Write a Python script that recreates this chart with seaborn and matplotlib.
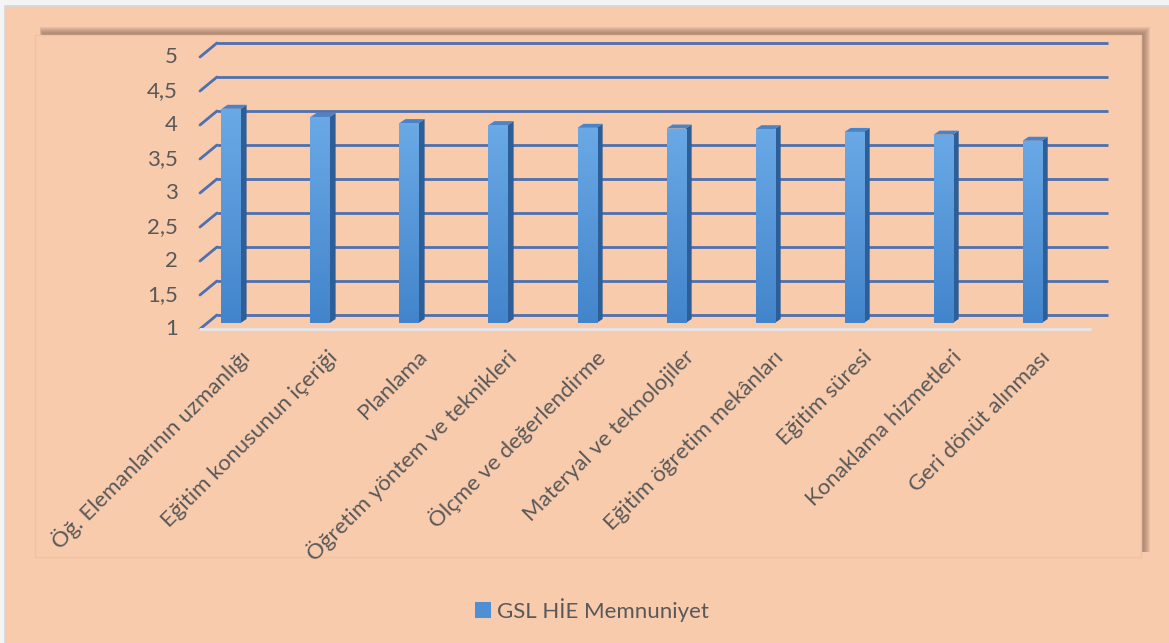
import numpy as np
import pandas as pd
import matplotlib
matplotlib.use("Agg")
import matplotlib.pyplot as plt
import matplotlib.patches as mpatches
import matplotlib.transforms as mtrans
from matplotlib.lines import Line2D
from matplotlib.colors import LinearSegmentedColormap
import seaborn as sns

# ---------------- data ----------------
categories = [
    "Öğ. Elemanlarının uzmanlığı",
    "Eğitim konusunun içeriği",
    "Planlama",
    "Öğretim yöntem ve teknikleri",
    "Ölçme ve değerlendirme",
    "Materyal ve teknolojiler",
    "Eğitim öğretim mekânları",
    "Eğitim süresi",
    "Konaklama hizmetleri",
    "Geri dönüt alınması",
]
values = [4.15, 4.03, 3.94, 3.91, 3.87, 3.86, 3.85, 3.81, 3.77, 3.68]
series_name = "GSL HİE Memnuniyet"
yticks = [1, 1.5, 2, 2.5, 3, 3.5, 4, 4.5, 5]
ytick_labels = ["1", "1,5", "2", "2,5", "3", "3,5", "4", "4,5", "5"]

# ---------------- style ----------------
sns.set_theme(style="white")
plt.rcParams["font.family"] = ["Lato", "DejaVu Sans"]

BG = "#F8CBAD"
TXT = "#595959"
GRID = "#4E6FB0"
FRONT_TOP = "#6AA9E6"
FRONT_BOT = "#4385CC"
SIDE = "#2D5E98"
TOP = "#4A84C8"
FS = 16

W, H = 1169, 643
fig = plt.figure(figsize=(W / 100, H / 100), dpi=100)
fig.patch.set_facecolor("#F4F4F4")
ID = mtrans.IdentityTransform()

def px_rect(x0, y0_top, x1, y1_top, **kw):
    return mpatches.Rectangle((x0, H - y1_top), x1 - x0, y1_top - y0_top,
                              transform=ID, **kw)

# outer chart area
fig.patches.append(px_rect(5, 6, W + 2, H + 2, facecolor=BG,
                           edgecolor="#D6D6D6", linewidth=1.2, zorder=0))
# shadow of plot area (offset up/right, blurred)
for k in range(7):
    fig.patches.append(px_rect(40 + k * 0.3, 27 + k, 1150 - k, 552,
                               facecolor="#8A6A58", edgecolor="none",
                               alpha=0.13, zorder=1))
# plot area
fig.patches.append(px_rect(35, 35, 1141, 557, facecolor=BG,
                           edgecolor="#F0C2A4", linewidth=1.0, zorder=2))

# ---------------- axes ----------------
ax = fig.add_axes([207 / W, (H - 323) / H, 891 / W, 272 / H])
ax.set_facecolor("none")
ax.set_zorder(5)

df = pd.DataFrame({"cat": categories, "val": values})
sns.barplot(data=df, x="cat", y="val", color=FRONT_BOT, width=0.215,
            saturation=1, ax=ax, zorder=4, linewidth=0, edgecolor="none")
ax.set_xlim(-0.27, 9.74)
ax.set_ylim(1, 5)
ax.set_xlabel("")
ax.set_ylabel("")
ax.set_xticks([])
ax.set_yticks([])
for s in ax.spines.values():
    s.set_visible(False)

fig.canvas.draw()
T = ax.transData

BDX, BDY = 10, 8
FDX, FDY = -7, -6

x_left, x_right = ax.get_xlim()
for yv in yticks:
    pl = T.transform((x_left, yv))
    pr = T.transform((x_right, yv))
    ax.add_line(Line2D([pl[0] + BDX, pr[0] + BDX], [pl[1] + BDY, pr[1] + BDY],
                       transform=ID, color=GRID, lw=2.0, zorder=1,
                       solid_capstyle="butt", clip_on=False))
    ax.add_line(Line2D([pl[0] + FDX, pl[0] + BDX], [pl[1] + FDY, pl[1] + BDY],
                       transform=ID, color=GRID, lw=2.0, zorder=1, clip_on=False))
p0 = T.transform((x_left, 1))
p1 = T.transform((x_right, 1))
ax.add_line(Line2D([p0[0] + FDX, p1[0] - 8], [p0[1] + FDY, p1[1] + FDY],
                   transform=ID, color="#E8E4E6", lw=2.2, zorder=1, clip_on=False))

# 3D bar faces
SDX, SDY = 6, 4
grad = np.linspace(0, 1, 64).reshape(-1, 1)
cmap = LinearSegmentedColormap.from_list("g", [FRONT_BOT, FRONT_TOP])
for bar in ax.patches[:len(values)]:
    x0 = bar.get_x()
    x1 = x0 + bar.get_width()
    h = bar.get_height()
    b = T.transform((x1, 1))
    c = T.transform((x1, h))
    d = T.transform((x0, h))
    side = mpatches.Polygon([b, c, (c[0] + SDX, c[1] + SDY), (b[0] + SDX, b[1] + SDY)],
                            closed=True, transform=ID, facecolor=SIDE,
                            edgecolor="none", zorder=3, clip_on=False)
    top = mpatches.Polygon([d, c, (c[0] + SDX, c[1] + SDY), (d[0] + SDX, d[1] + SDY)],
                           closed=True, transform=ID, facecolor=TOP,
                           edgecolor="none", zorder=3, clip_on=False)
    ax.add_patch(side)
    ax.add_patch(top)
    im = ax.imshow(grad, extent=[x0, x1, 1, h], origin="lower", cmap=cmap,
                   aspect="auto", zorder=4.5)
    im.set_clip_path(bar)
ax.set_xlim(x_left, x_right)
ax.set_ylim(1, 5)

# y tick labels (front edge)
ylab_tr = mtrans.blended_transform_factory(ax.transAxes, ax.transData) + \
    mtrans.ScaledTranslation(-29 / 100, -6 / 100, fig.dpi_scale_trans)
for yv, lab in zip(yticks, ytick_labels):
    ax.text(0, yv, lab, transform=ylab_tr, ha="right", va="center",
            fontsize=FS, color=TXT)

# x category labels
xlab_tr = ax.transData + mtrans.ScaledTranslation(15 / 100, -31 / 100, fig.dpi_scale_trans)
for i, lab in enumerate(categories):
    ax.text(i, 1, lab, transform=xlab_tr, ha="right", va="center",
            rotation=45, rotation_mode="anchor", fontsize=FS, color=TXT)

# legend
handle = mpatches.Patch(facecolor="#4F8FD6", edgecolor="none")
fig.legend([handle], [series_name], loc="center",
           bbox_to_anchor=(592 / W, 1 - 610 / H), frameon=False,
           fontsize=FS, labelcolor=TXT, handlelength=0.7, handleheight=0.7,
           handletextpad=0.3)

fig.savefig("out.png", dpi=100, facecolor=fig.get_facecolor())
